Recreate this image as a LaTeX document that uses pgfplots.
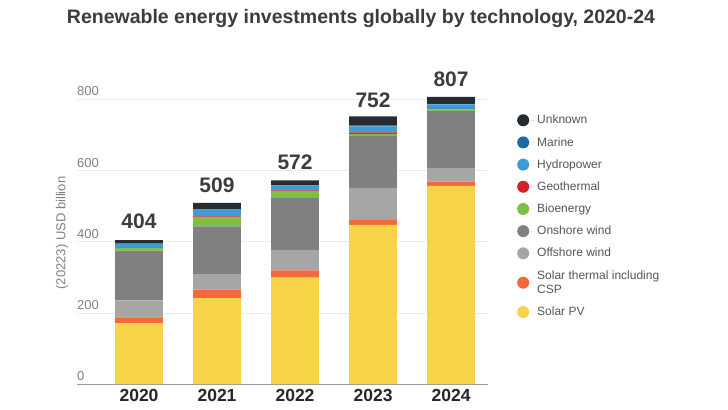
\documentclass[border=0pt]{standalone}
\usepackage{pgfplots}
\pgfplotsset{compat=1.18}
\usepackage{fontspec}
\setmainfont{Liberation Sans}
\definecolor{cPV}{HTML}{F6D347}
\definecolor{cCSP}{HTML}{F4693A}
\definecolor{cOff}{HTML}{A6A6A6}
\definecolor{cOn}{HTML}{808080}
\definecolor{cBio}{HTML}{7CC143}
\definecolor{cGeo}{HTML}{D52027}
\definecolor{cHyd}{HTML}{3D9BDA}
\definecolor{cMar}{HTML}{1B6AA5}
\definecolor{cUnk}{HTML}{262B2F}
\definecolor{txt}{HTML}{3C3C3C}
\definecolor{lgtxt}{HTML}{555555}
\begin{document}
\begin{tikzpicture}
\path[use as bounding box] (0,0) rectangle (728bp,410bp);
\node[font=\bfseries\fontsize{19.5bp}{22bp}\selectfont, text=txt] at (361bp,391bp) {Renewable energy investments globally by technology, 2020-24};
\node[rotate=90, font=\fontsize{13bp}{15bp}\selectfont, text=gray] at (62bp,177bp) {(20223) USD billion};
\begin{axis}[
  at={(77bp,26bp)}, anchor=south west,
  scale only axis, width=411bp, height=284.7bp,
  xmin=-0.795, xmax=4.474, ymin=0, ymax=800,
  ybar stacked, bar width=47.7bp,
  axis x line=bottom, axis y line=left,
  x axis line style={-, draw=gray!80, line width=0.8pt},
  y axis line style={draw=none},
  major tick length=0pt,
  xtick={0,1,2,3,4}, xticklabels={2020,2021,2022,2023,2024},
  ytick={0,200,400,600,800},
  ymajorgrids, grid style={draw=black!8, line width=0.6pt},
  xticklabel style={font=\bfseries\fontsize{17.5bp}{20bp}\selectfont, text=black!85, yshift=-2bp},
  yticklabel style={anchor=south west, inner sep=0pt, yshift=3bp, font=\fontsize{13bp}{15bp}\selectfont, text=gray},
  /pgf/number format/assume math mode=true,
  clip=false,
  reverse legend,
  legend cell align=left,
  legend style={at={(1.073,0.959)}, xshift=-4bp, anchor=north west, draw=none, fill=none,
    font=\fontsize{12bp}{14.4bp}\selectfont, text=lgtxt, row sep=8bp,
    nodes={align=left}},
]
\addplot[fill=cPV, draw=none, legend image code/.code={\fill[cPV] (6bp,0) circle (6bp); \path (0,0) -- (18bp,0);}] coordinates {(0,171) (1,241) (2,299) (3,447) (4,557)};
\addlegendentry{Solar PV}
\addplot[fill=cCSP, draw=none, legend image code/.code={\fill[cCSP] (6bp,0) circle (6bp); \path (0,0) -- (18bp,0);}] coordinates {(0,16) (1,24) (2,20) (3,14) (4,12)};
\addlegendentry{Solar thermal including\\CSP}
\addplot[fill=cOff, draw=none, legend image code/.code={\fill[cOff] (6bp,0) circle (6bp); \path (0,0) -- (18bp,0);}] coordinates {(0,48) (1,44) (2,58) (3,90) (4,38)};
\addlegendentry{Offshore wind}
\addplot[fill=cOn, draw=none, legend image code/.code={\fill[cOn] (6bp,0) circle (6bp); \path (0,0) -- (18bp,0);}] coordinates {(0,140) (1,134) (2,146) (3,146) (4,160)};
\addlegendentry{Onshore wind}
\addplot[fill=cBio, draw=none, legend image code/.code={\fill[cBio] (6bp,0) circle (6bp); \path (0,0) -- (18bp,0);}] coordinates {(0,7) (1,26) (2,19) (3,6) (4,5)};
\addlegendentry{Bioenergy}
\addplot[fill=cGeo, draw=none, legend image code/.code={\fill[cGeo] (6bp,0) circle (6bp); \path (0,0) -- (18bp,0);}] coordinates {(0,2) (1,2) (2,2) (3,4) (4,1)};
\addlegendentry{Geothermal}
\addplot[fill=cHyd, draw=none, legend image code/.code={\fill[cHyd] (6bp,0) circle (6bp); \path (0,0) -- (18bp,0);}] coordinates {(0,10) (1,19) (2,14) (3,17) (4,13)};
\addlegendentry{Hydropower}
\addplot[fill=cMar, draw=none, legend image code/.code={\fill[cMar] (6bp,0) circle (6bp); \path (0,0) -- (18bp,0);}] coordinates {(0,1) (1,1) (2,1) (3,2) (4,1)};
\addlegendentry{Marine}
\addplot[fill=cUnk, draw=none, legend image code/.code={\fill[cUnk] (6bp,0) circle (6bp); \path (0,0) -- (18bp,0);},
  nodes near coords, point meta=explicit symbolic,
  every node near coord/.append style={font=\bfseries\fontsize{21bp}{24bp}\selectfont, text=txt, anchor=south, yshift=10bp}]
  coordinates {(0,9) [404] (1,18) [509] (2,13) [572] (3,26) [752] (4,20) [807]};
\addlegendentry{Unknown}
\end{axis}
\end{tikzpicture}
\end{document}
